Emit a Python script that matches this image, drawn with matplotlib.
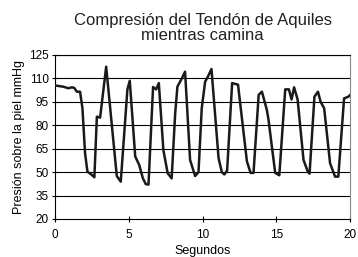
import matplotlib
matplotlib.use("Agg")
import matplotlib.pyplot as plt

plt.rcParams["font.family"] = ["Liberation Sans", "DejaVu Sans"]

# time (s) and pressure (mmHg)
seconds = [
    0.0, 0.55, 0.9, 1.13, 1.29, 1.47, 1.69, 1.85, 2.03, 2.19, 2.49, 2.66,
    2.83, 3.05, 3.46, 4.18, 4.45, 4.9, 5.06, 5.43, 5.7, 5.95, 6.15, 6.33,
    6.64, 6.85, 7.03, 7.34, 7.63, 7.9, 8.14, 8.29, 8.59, 8.81, 9.15, 9.49,
    9.72, 9.94, 10.17, 10.35, 10.6, 11.08, 11.3, 11.47, 11.66, 12.0, 12.4,
    13.0, 13.25, 13.45, 13.8, 14.02, 14.35, 14.46, 14.92, 15.2, 15.6, 15.85,
    16.03, 16.2, 16.44, 16.84, 17.13, 17.25, 17.58, 17.82, 18.0, 18.24,
    18.64, 18.98, 19.2, 19.59, 19.88, 20.0,
]
pressure = [
    105.5, 104.7, 103.7, 104.3, 104.0, 101.5, 101.5, 91.0, 62.0, 50.3, 48.2, 46.7,
    85.5, 84.9, 117.5, 47.5, 43.9, 103.0, 108.5, 60.0, 54.6, 46.0, 42.3, 42.0,
    104.5, 103.0, 107.0, 64.0, 49.3, 46.0, 87.7, 104.7, 110.0, 114.3, 57.8, 47.5,
    50.0, 90.9, 107.9, 111.0, 116.0, 59.0, 50.0, 48.5, 51.0, 107.0, 106.0,
    57.0, 49.5, 49.5, 99.5, 101.5, 90.0, 84.0, 49.5, 48.0, 103.0, 103.0,
    96.5, 104.3, 96.5, 57.8, 50.3, 49.0, 98.3, 101.5, 95.0, 90.9,
    55.7, 47.1, 47.1, 97.2, 98.3, 99.4,
]

y_ticks = [20, 35, 50, 65, 80, 95, 110, 125]
x_ticks = [0, 5, 10, 15, 20]

fig = plt.figure(figsize=(3.58, 2.57), dpi=100)
ax = fig.add_axes([0.154, 0.148, 0.824, 0.638])

for v in y_ticks[1:]:
    ax.axhline(v, color="black", lw=0.8, zorder=1)

ax.plot(seconds, pressure, color="#1a1a1a", lw=1.8, zorder=3)

ax.set_xlim(0, 20)
ax.set_ylim(20, 125)
ax.set_xticks(x_ticks)
ax.set_yticks(y_ticks)
ax.tick_params(axis="both", direction="inout", length=5, width=0.8,
               labelsize=8.5, pad=2)
ax.tick_params(axis="x", pad=5)

for side in ["left", "bottom", "top"]:
    ax.spines[side].set_color("black")
    ax.spines[side].set_linewidth(0.8)
ax.spines["right"].set_color("#888888")
ax.spines["right"].set_linewidth(0.8)

ax.set_xlabel("Segundos", fontsize=9, labelpad=2.5)
ax.set_ylabel("Presión sobre la piel mmHg", fontsize=9, labelpad=3)
ax.set_title("Compresión del Tendón de Aquiles\nmientras camina",
             fontsize=12, pad=11, linespacing=1.0, color="#222222")

fig.savefig("out.png", dpi=100)
